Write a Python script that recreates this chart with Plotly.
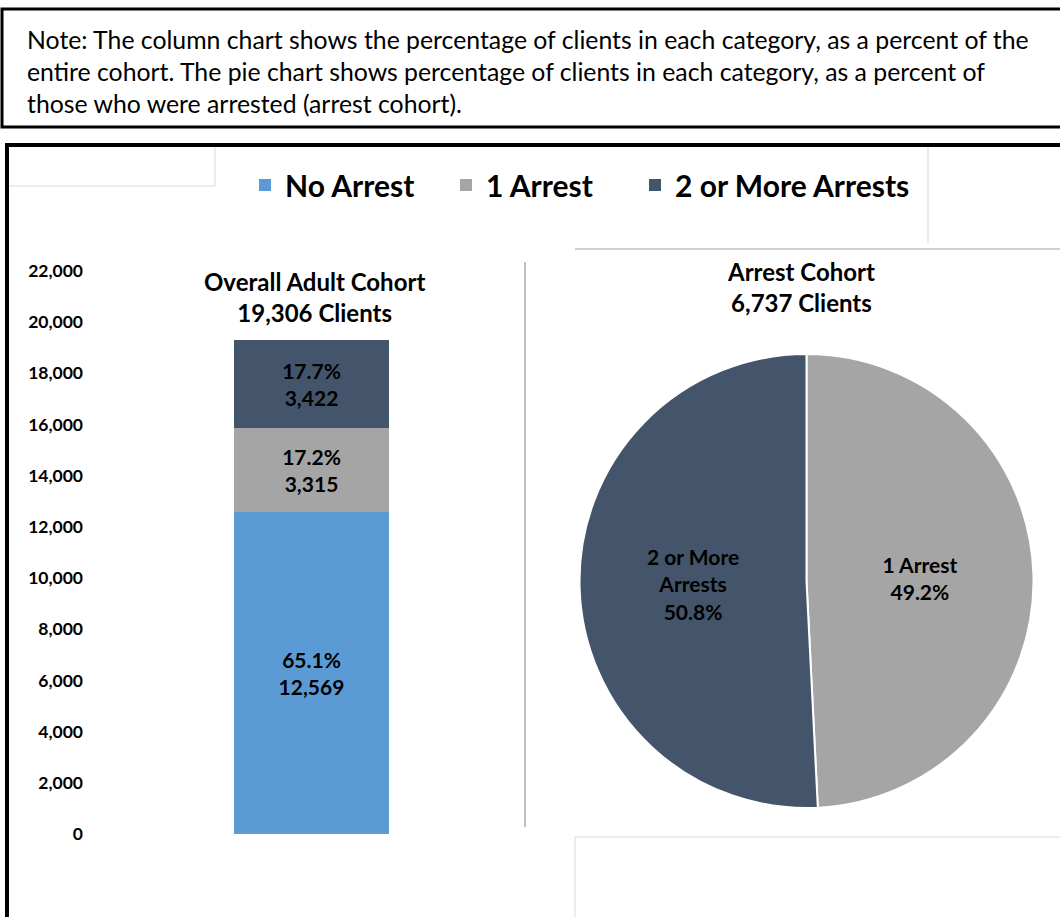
import plotly.graph_objects as go

# ---- data -------------------------------------------------------------
categories = ["No Arrest", "1 Arrest", "2 or More Arrests"]
cohort_counts = [12569, 3315, 3422]
cohort_pct = [65.1, 17.2, 17.7]
cohort_total = 19306

arrest_labels = ["1 Arrest", "2 or More Arrests"]
arrest_text = ["1 Arrest", "2 or More<br>Arrests"]
arrest_counts = [3315, 3422]
arrest_total = 6737

y_ticks = [0, 2000, 4000, 6000, 8000, 10000, 12000, 14000, 16000, 18000, 20000, 22000]

colors = {"No Arrest": "#5B9BD5", "1 Arrest": "#A5A5A5", "2 or More Arrests": "#44546A"}

note = ("Note: The column chart shows the percentage of clients in each category, as a percent of the<br>"
        "entire cohort. The pie chart shows percentage of clients in each category, as a percent of<br>"
        "those who were arrested (arrest cohort).")

W, H = 1060, 917
FONT = "Lato"


def px_x(p):
    return p / W


def px_y(p):
    return 1 - p / H


fig = go.Figure()

# stacked column for the overall cohort; each series gets its own legend box
legend_ids = ["legend", "legend2", "legend3"]
for cat, cnt, pct, lg in zip(categories, cohort_counts, cohort_pct, legend_ids):
    fig.add_trace(go.Bar(
        x=["Overall"], y=[cnt], name=cat, legend=lg,
        marker=dict(color=colors[cat], line=dict(width=0)),
        customdata=[pct],
        texttemplate="%{customdata:.1f}%<br>%{y:,}",
        textposition="inside", insidetextanchor="middle",
        textfont=dict(family=FONT, size=21, color="#000000", weight="bold"),
        hoverinfo="skip",
    ))

# pie for the arrest cohort
fig.add_trace(go.Pie(
    labels=arrest_labels, values=arrest_counts, text=arrest_text,
    texttemplate="%{text}<br>%{percent:.1%}",
    textposition="inside", insidetextorientation="horizontal",
    textfont=dict(family=FONT, size=21, color="#000000", weight="bold"),
    marker=dict(colors=[colors[l] for l in arrest_labels], line=dict(color="white", width=2)),
    sort=False, direction="clockwise", rotation=0,
    showlegend=False, hoverinfo="skip", automargin=False,
    domain=dict(x=[px_x(579), px_x(1034)], y=[px_y(808), px_y(354)]),
))

legend_style = dict(orientation="h", xanchor="left", y=px_y(185), yanchor="middle",
                    font=dict(family=FONT, size=30, color="#000000", weight="bold"),
                    itemwidth=30, bgcolor="rgba(0,0,0,0)")

fig.update_layout(
    width=W, height=H,
    margin=dict(l=0, r=0, t=0, b=0, autoexpand=False),
    paper_bgcolor="white", plot_bgcolor="white",
    barmode="stack", bargap=0.653,
    font=dict(family=FONT, color="#000000"),
    xaxis=dict(domain=[px_x(88), px_x(535)], showticklabels=False, showgrid=False,
               zeroline=False, showline=False, fixedrange=True, automargin=False),
    yaxis=dict(domain=[px_y(834), px_y(271)], range=[0, 22000], tickvals=y_ticks,
               tickformat=",", showgrid=False, zeroline=False, showline=False,
               ticklabelstandoff=4, automargin=False,
               tickfont=dict(family=FONT, size=17.5, color="#000000", weight="bold")),
    legend=dict(x=px_x(245), **legend_style),
    legend2=dict(x=px_x(446), **legend_style),
    legend3=dict(x=px_x(635), **legend_style),
    showlegend=True,
)

# chart titles
title_font = dict(family=FONT, size=24, color="#000000", weight="bold")
fig.add_annotation(x=px_x(314), y=px_y(297), xref="paper", yref="paper",
                   xanchor="center", yanchor="middle",
                   text=f"Overall Adult Cohort<br>{cohort_total:,} Clients", showarrow=False,
                   font=title_font)
fig.add_annotation(x=px_x(801), y=px_y(287), xref="paper", yref="paper",
                   xanchor="center", yanchor="middle",
                   text=f"Arrest Cohort<br>{arrest_total:,} Clients", showarrow=False,
                   font=title_font)

# note box
fig.add_annotation(x=px_x(25), y=px_y(71), xref="paper", yref="paper", xanchor="left",
                   yanchor="middle", align="left", text=note, showarrow=False,
                   font=dict(family=FONT, size=24.8, color="#000000"))

shapes = [
    # outer black frames
    dict(type="rect", x0=px_x(2), x1=px_x(1070), y0=px_y(9), y1=px_y(127),
         line=dict(color="#000000", width=3)),
    dict(type="rect", x0=px_x(7), x1=px_x(1070), y0=px_y(145), y1=px_y(930),
         line=dict(color="#000000", width=4)),
    # light frame fragments
    dict(type="line", x0=px_x(9), x1=px_x(215), y0=px_y(186), y1=px_y(186),
         line=dict(color="#D9D9D9", width=1)),
    dict(type="line", x0=px_x(215), x1=px_x(215), y0=px_y(147), y1=px_y(186),
         line=dict(color="#D9D9D9", width=1)),
    dict(type="line", x0=px_x(928), x1=px_x(928), y0=px_y(147), y1=px_y(243),
         line=dict(color="#D9D9D9", width=1)),
    dict(type="line", x0=px_x(575), x1=px_x(1060), y0=px_y(249), y1=px_y(249),
         line=dict(color="#D0D0D0", width=2)),
    dict(type="line", x0=px_x(525), x1=px_x(525), y0=px_y(262), y1=px_y(827),
         line=dict(color="#BFBFBF", width=2)),
    dict(type="line", x0=px_x(575), x1=px_x(1060), y0=px_y(837), y1=px_y(837),
         line=dict(color="#D9D9D9", width=1)),
    dict(type="line", x0=px_x(575), x1=px_x(575), y0=px_y(837), y1=px_y(917),
         line=dict(color="#D9D9D9", width=1)),
]
for s in shapes:
    s.update(xref="paper", yref="paper")
    fig.add_shape(**s)

fig.write_html("out.html")
